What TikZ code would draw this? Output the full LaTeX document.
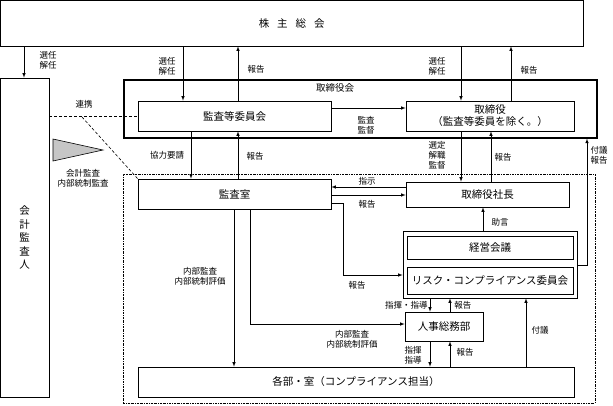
\documentclass[tikz,border=0pt]{standalone}
\usepackage{fontspec}
\setmainfont{Noto Sans CJK JP}
\usepackage{tikz}

\begin{document}
\begin{tikzpicture}[x=1pt,y=-1pt,>=latex,line width=0.6pt]
\tikzstyle{box}=[draw,inner sep=0pt,font=\fontsize{10.5}{12}\selectfont,align=center]
\tikzstyle{lbl}=[inner sep=0pt,font=\fontsize{8.5}{10}\selectfont,align=center]
\tikzstyle{arr}=[->]
\tikzstyle{link}=[dash pattern=on 3pt off 2pt]
\useasboundingbox (0,0) rectangle (613,405);

\node[box,minimum width=582.5,minimum height=45.5] (share) at (291.75,23.25) {株\hspace{8pt}主\hspace{8pt}総\hspace{8pt}会};
\node[box,minimum width=48.5,minimum height=319,font=\fontsize{10.5}{13.5}\selectfont] (auditor) at (24.75,237.5) {会\\計\\監\\査\\人};
\node[box,line width=1.2pt,minimum width=473,minimum height=58] (board) at (360.5,109) {};
\node[lbl,font=\fontsize{9.5}{11}\selectfont] (boardlbl) at (335,88) {取締役会};
\node[box,minimum width=193,minimum height=30] (cmte) at (234.5,116) {監査等委員会};
\node[box,minimum width=168,minimum height=30] (dir) at (490,116) {取締役\\（監査等委員を除く。）};
\node[draw,dash pattern=on 2pt off 1pt on 0.6pt off 1pt,minimum width=472,minimum height=229] (inner) at (359,288.5) {};
\node[box,fill=white,minimum width=193,minimum height=30] (office) at (234.5,194) {監査室};
\node[box,minimum width=163,minimum height=25] (pres) at (487.5,194.5) {取締役社長};
\node[box,minimum width=174,minimum height=67] (mgmt) at (490,264.5) {};
\node[box,minimum width=166,minimum height=23] (meet) at (490,247.5) {経営会議};
\node[box,minimum width=166,minimum height=27] (risk) at (490,280.5) {リスク・コンプライアンス委員会};
\node[box,minimum width=78,minimum height=29] (hr) at (444,326.5) {人事総務部};
\node[box,minimum width=436,minimum height=30] (dept) at (356,382) {各部・室（コンプライアンス担当）};

\filldraw[fill=gray!45] (53,139) -- (53,161) -- (103,150) -- cycle;
\node[lbl] (auditlbl) at (83,178) {会計監査\\内部統制監査};

\draw[arr] (24,0 |- share.south) -- (24,0 |- auditor.north);
\node[lbl] (elect1) at (48,60) {選任\\解任};
\draw[arr] (183,0 |- share.south) -- (183,0 |- cmte.north);
\node[lbl] (elect2) at (167,66) {選任\\解任};
\draw[arr] (238,0 |- cmte.north) -- (238,0 |- share.south);
\node[lbl] (rep1) at (256,69) {報告};
\draw[arr] (461,0 |- share.south) -- (461,0 |- dir.north);
\node[lbl] (elect3) at (437,66) {選任\\解任};
\draw[arr] (511,0 |- dir.north) -- (511,0 |- share.south);
\node[lbl] (rep2) at (529,70) {報告};

\draw[arr] (cmte.east |- 0,108) -- (dir.west |- 0,108);
\node[lbl] (audit1) at (366,125) {監査\\監督};
\draw[link] (auditor.east |- cmte.west) -- (cmte.west);
\node[lbl] (coop) at (84,104) {連携};
\coordinate (diag) at (82,117);
\draw[link] (diag) -- (office.north west);

\draw[arr] (191,0 |- cmte.south) -- (191,0 |- office.north);
\node[lbl] (req) at (167,155) {協力要請};
\draw[arr] (238,0 |- office.north) -- (238,0 |- cmte.south);
\node[lbl] (rep3) at (255,156) {報告};
\draw[arr] (461,0 |- dir.south) -- (461,0 |- pres.north);
\node[lbl] (appoint) at (437,155) {選定\\解職\\監督};
\draw[arr] (491,0 |- pres.north) -- (491,0 |- dir.south);
\node[lbl] (rep4) at (503,157) {報告};
\coordinate (up) at (587,265);
\draw[arr] (mgmt.east |- up) -- (up) -- (up |- board.south);
\node[lbl] (subrep) at (599,155) {付議\\報告};

\draw[arr] (pres.west |- 0,187) -- (office.east |- 0,187);
\node[lbl] (instr) at (367,181) {指示};
\draw[arr] (office.east |- 0,195) -- (pres.west |- 0,195);
\node[lbl] (rep5) at (367,204) {報告};
\draw[arr] (office.east |- 0,203) -| (343,275) -- (mgmt.west |- 0,275);
\node[lbl] (rep6) at (357,285) {報告};

\draw[arr] (483,0 |- mgmt.north) -- (483,0 |- pres.south);
\node[lbl] (advice) at (500,222) {助言};
\draw[arr] (430,0 |- mgmt.south) -- (430,0 |- hr.north);
\node[lbl,anchor=east] (cmd1) at (428,305) {指揮・指導};
\draw[arr] (450,0 |- hr.north) -- (450,0 |- mgmt.south);
\node[lbl,anchor=west] (rep7) at (454,305) {報告};

\draw[arr] (250,0 |- office.south) |- (hr.west |- 0,324);
\node[lbl] (int1) at (352,339) {内部監査\\内部統制評価};
\draw[arr] (234,0 |- office.south) -- (234,0 |- dept.north);
\node[lbl] (int2) at (200,276) {内部監査\\内部統制評価};
\draw[arr] (430,0 |- hr.south) -- (430,0 |- dept.north);
\node[lbl] (cmd2) at (413,355) {指揮\\指導};
\draw[arr] (450,0 |- dept.north) -- (450,0 |- hr.south);
\node[lbl] (rep8) at (465,352) {報告};
\draw[arr] (526,0 |- dept.north) -- (526,0 |- mgmt.south);
\node[lbl] (sub) at (540,330) {付議};
\end{tikzpicture}
\end{document}
